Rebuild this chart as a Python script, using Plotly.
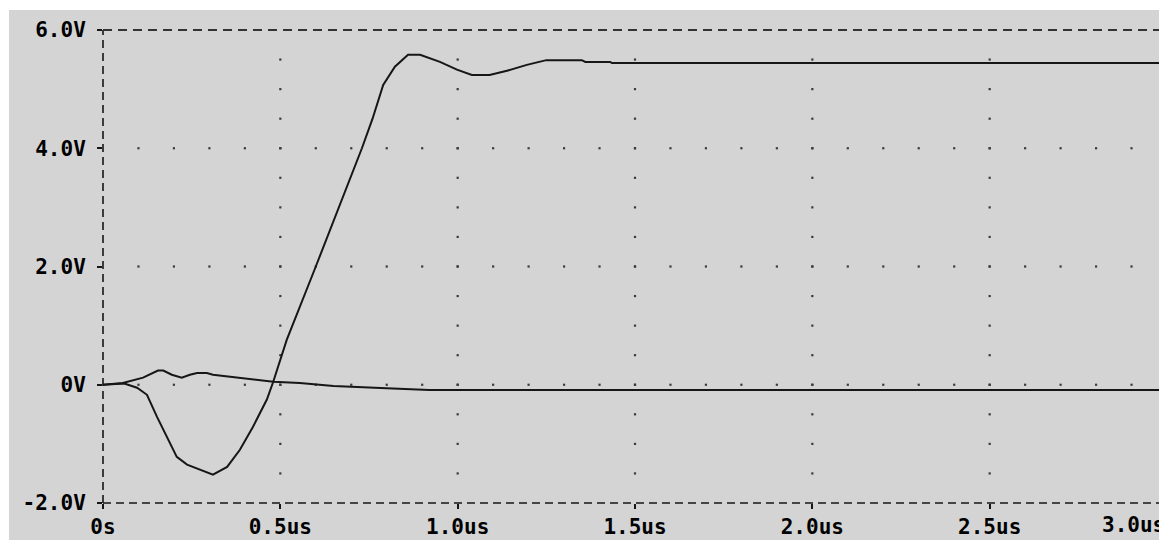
import numpy as np
import plotly.graph_objects as go

# ---- data (time in us, voltage in V) ----
t_out = [0, 0.06, 0.096, 0.124, 0.152, 0.18, 0.208, 0.237, 0.273, 0.31, 0.35, 0.386,
         0.423, 0.462, 0.48, 0.518, 0.60, 0.73, 0.76, 0.79, 0.823, 0.86, 0.894, 0.95,
         0.998, 1.04, 1.09, 1.139, 1.195, 1.25, 1.35, 1.36, 1.43, 1.435, 3.0]
v_out = [0, 0.02, -0.05, -0.17, -0.54, -0.88, -1.22, -1.35, -1.44, -1.52, -1.39, -1.1,
         -0.71, -0.25, 0.05, 0.76, 2.0, 4.0, 4.5, 5.07, 5.38, 5.58, 5.58, 5.46,
         5.33, 5.24, 5.24, 5.31, 5.41, 5.49, 5.49, 5.46, 5.46, 5.44, 5.44]

t_in = [0, 0.056, 0.113, 0.155, 0.17, 0.194, 0.222, 0.245, 0.265, 0.293, 0.31, 0.367,
        0.423, 0.48, 0.555, 0.65, 0.8, 0.92, 3.0]
v_in = [0, 0.03, 0.12, 0.24, 0.24, 0.17, 0.12, 0.17, 0.2, 0.2, 0.17, 0.13,
        0.08, 0.05, 0.03, -0.02, -0.06, -0.09, -0.09]

x_ticks = [0, 0.5, 1.0, 1.5, 2.0, 2.5]
x_labels = ["0s", "0.5us", "1.0us", "1.5us", "2.0us", "2.5us"]
x_last_tick = 3.0
x_last_label = "3.0us"
y_ticks = [-2, 0, 2, 4, 6]
y_labels = ["-2.0V", "0V", "2.0V", "4.0V", "6.0V"]

BG = "#d4d4d4"
INK = "#161616"
FONT = dict(family="DejaVu Sans Mono", size=21, color="#000000", weight="bold")

fig = go.Figure()

# dotted grid: dots along major gridlines at minor spacing
gx, gy = [], []
for xv in [0.5, 1.0, 1.5, 2.0, 2.5]:
    for yv in np.arange(-1.5, 6.0, 0.5):
        gx.append(xv); gy.append(yv)
for yv in [0, 2, 4]:
    for xv in np.arange(0.1, 3.0, 0.1):
        gx.append(xv); gy.append(yv)
fig.add_trace(go.Scatter(x=gx, y=gy, mode="markers",
                         marker=dict(symbol="square", size=2.2, color="#3a3a3a"),
                         hoverinfo="skip", showlegend=False))

fig.add_trace(go.Scatter(x=t_in, y=v_in, mode="lines",
                         line=dict(color=INK, width=2), showlegend=False))
fig.add_trace(go.Scatter(x=t_out, y=v_out, mode="lines",
                         line=dict(color=INK, width=2), showlegend=False))

shapes = [
    # gray panel
    dict(type="rect", xref="paper", yref="paper", xsizemode="pixel", ysizemode="pixel",
         xanchor=0, yanchor=1, x0=-94, x1=1200, y0=20, y1=-600,
         fillcolor=BG, line=dict(width=0), layer="below"),
    # dashed frame
    dict(type="line", xref="paper", yref="paper", x0=0, x1=0, y0=0, y1=1,
         line=dict(color=INK, width=1.6, dash="8px,5px")),
    dict(type="line", xref="paper", yref="paper", x0=0, x1=1, y0=1, y1=1,
         line=dict(color="#333333", width=2, dash="9px,6px")),
    dict(type="line", xref="paper", yref="paper", x0=0, x1=1, y0=0, y1=0,
         line=dict(color=INK, width=1.6, dash="8px,5px")),
]

fig.update_layout(
    width=1159, height=532,
    margin=dict(l=95, r=0, t=22, b=37, autoexpand=False),
    paper_bgcolor="white", plot_bgcolor=BG,
    shapes=shapes,
    showlegend=False,
    xaxis=dict(range=[0, 3.0], showgrid=False, zeroline=False, showline=False,
               automargin=False,
               tickmode="array", tickvals=x_ticks, ticktext=x_labels,
               ticks="outside", ticklen=5, tickwidth=1.5, tickcolor=INK,
               tickfont=FONT, ticklabelstandoff=0),
    yaxis=dict(range=[-2, 6], showgrid=False, zeroline=False, showline=False,
               automargin=False,
               tickmode="array", tickvals=y_ticks, ticktext=y_labels,
               ticks="outside", ticklen=5, tickwidth=1.5, tickcolor=INK,
               tickfont=FONT, ticklabelstandoff=7),
    annotations=[dict(x=x_last_tick, y=-2, xref="x", yref="y", text=x_last_label,
                      showarrow=False, xanchor="right", yanchor="top",
                      yshift=-8, xshift=0, font=FONT)],
)

fig.write_html("out.html")
